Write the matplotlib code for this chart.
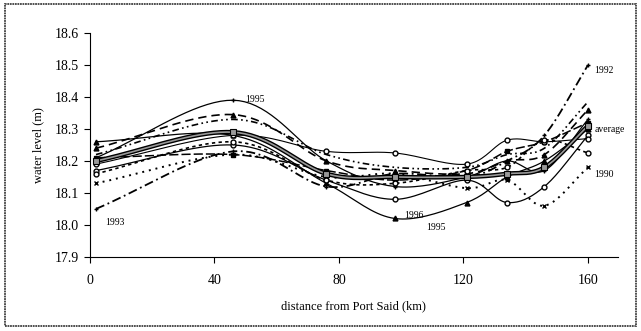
import numpy as np
import matplotlib
matplotlib.use("Agg")
import matplotlib.pyplot as plt
from matplotlib.patches import Rectangle

plt.rcParams['font.family'] = ['Liberation Serif', 'DejaVu Serif']

# distance from Port Said (km) of the gauges
km = [2, 46, 76, 98, 121, 134, 146, 160]

# yearly water level profiles (m)
lvl_avg = [18.20, 18.29, 18.16, 18.15, 18.15, 18.16, 18.18, 18.31]
lvl_a = [18.21, 18.39, 18.20, 18.12, 18.15, 18.20, 18.17, 18.33]
lvl_b = [18.26, 18.28, 18.13, 18.02, 18.07, 18.15, 18.20, 18.30]
lvl_c = [18.17, 18.25, 18.14, 18.08, 18.14, 18.07, 18.12, 18.28]
lvl_d = [18.05, 18.23, 18.12, 18.16, 18.15, 18.20, 18.28, 18.50]
lvl_e = [18.13, 18.22, 18.15, 18.16, 18.115, 18.14, 18.06, 18.18]
lvl_f = [18.24, 18.345, 18.20, 18.17, 18.16, 18.20, 18.22, 18.36]
lvl_g = [18.22, 18.33, 18.22, 18.18, 18.18, 18.22, 18.24, 18.385]
lvl_h = [18.21, 18.22, 18.17, 18.14, 18.17, 18.23, 18.26, 18.32]
lvl_i = [18.19, 18.28, 18.23, 18.225, 18.19, 18.265, 18.26, 18.27]
lvl_j = [18.16, 18.26, 18.14, 18.13, 18.17, 18.18, 18.265, 18.225]

xticks = [0, 40, 80, 120, 160]
yticks = [17.9, 18.0, 18.1, 18.2, 18.3, 18.4, 18.5, 18.6]


def smooth(x, y, n=20):
    # Catmull-Rom curve through the points, like a spreadsheet "smoothed line"
    x = np.asarray(x, float)
    y = np.asarray(y, float)
    px = np.concatenate([[2 * x[0] - x[1]], x, [2 * x[-1] - x[-2]]])
    py = np.concatenate([[2 * y[0] - y[1]], y, [2 * y[-1] - y[-2]]])
    t = np.linspace(0, 1, n)
    xs, ys = [], []
    for i in range(1, len(px) - 2):
        for p, out in ((px, xs), (py, ys)):
            p0, p1, p2, p3 = p[i - 1], p[i], p[i + 1], p[i + 2]
            out.append(0.5 * (2 * p1 + (-p0 + p2) * t
                              + (2 * p0 - 5 * p1 + 4 * p2 - p3) * t ** 2
                              + (-p0 + 3 * p1 - 3 * p2 + p3) * t ** 3))
    return np.concatenate(xs), np.concatenate(ys)


fig = plt.figure(figsize=(6.41, 3.31), dpi=100)
fig.patches.append(Rectangle((0.008, 0.015), 0.984, 0.972, transform=fig.transFigure,
                             fill=False, ec='0.25', lw=1.3, ls=(0, (1, 0.4))))
ax = fig.add_axes([0.140, 0.224, 0.824, 0.676])

series = [
    (lvl_a, '-', '+', 0.9),
    (lvl_b, '-', '^', 0.9),
    (lvl_c, '-', 'o', 0.9),
    (lvl_d, (0, (5, 2, 1, 2)), '+', 1.3),
    (lvl_e, (0, (1, 2.5)), 'x', 1.4),
    (lvl_f, (0, (5, 3)), '^', 1.2),
    (lvl_g, (0, (4, 2, 1, 2, 1, 2)), None, 1.2),
    (lvl_h, (0, (6, 2)), 's', 1.1),
    (lvl_i, '-', 'o', 0.8),
    (lvl_j, (0, (2, 2)), 'o', 1.2),
]
for y, ls, mk, lw in series:
    sx, sy = smooth(km, y)
    ax.plot(sx, sy, color='black', ls=ls, lw=lw)
    if mk:
        ax.plot(km, y, ls='none', marker=mk, ms=3.5, mfc='white' if mk == 'o' else 'black',
                mec='black', mew=1)

sx, sy = smooth(km, lvl_avg)
ax.plot(sx, sy, color='black', lw=3.2)
ax.plot(sx, sy, color='0.6', lw=1.2)
ax.plot(km, lvl_avg, ls='none', marker='s', ms=5, mfc='0.6', mec='black', mew=0.8)

lab = dict(fontsize=7, color='black')
ax.text(5, 18.00, '1993', **lab)
ax.text(50, 18.385, '1995', **lab)
ax.text(101, 18.02, '1996', **lab)
ax.text(108, 17.985, '1995', **lab)
ax.text(162, 18.475, '1992', **lab)
ax.text(162, 18.29, 'average', **lab)
ax.text(162, 18.15, '1990', **lab)

ax.set_xlim(0, 169.6)
ax.set_ylim(17.9, 18.6)
ax.set_xticks(xticks)
ax.set_yticks(yticks)
ax.set_yticklabels([f'{v:.1f}' for v in yticks])
ax.tick_params(labelsize=10, length=4, width=0.8, direction='out')
ax.xaxis.set_tick_params(pad=8)
for s in ('top', 'right'):
    ax.spines[s].set_visible(False)
ax.set_xlabel('distance from Port Said (km)', fontsize=9, labelpad=10)
ax.set_ylabel('water level (m)', fontsize=9, labelpad=8)

fig.savefig('out.png', dpi=100)
